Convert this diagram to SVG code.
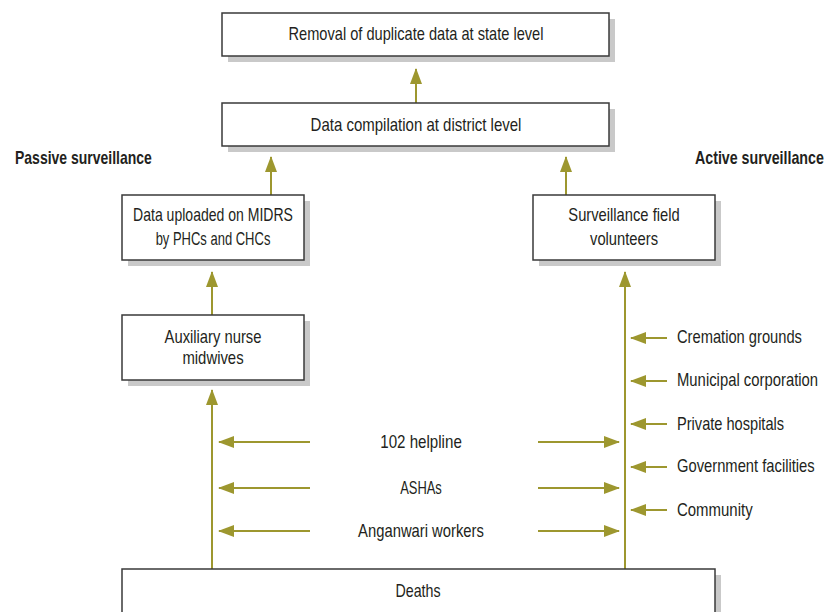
<svg xmlns="http://www.w3.org/2000/svg" width="827" height="612" viewBox="0 0 827 612">
<style>
.box{fill:#fff;stroke:#3a3a3a;stroke-width:1.5}
.sh{fill:#c9c9c9}
.t{font-family:"Liberation Sans",Arial,sans-serif;font-size:17.5px;fill:#231f20;text-anchor:middle}
.l{text-anchor:start}
.b{font-weight:bold}
.c{stroke:#9d972f;stroke-width:2;fill:none;marker-end:url(#ah)}
</style>
<defs>
<marker id="ah" markerUnits="userSpaceOnUse" viewBox="0 0 16 12" refX="15" refY="6" markerWidth="16" markerHeight="12" orient="auto">
<path d="M0,0 L16,6 L0,12 z" fill="#9d972f"/>
</marker>
</defs>
<rect width="827" height="612" fill="#fff"/>
<g id="connectors">
<line class="c" x1="416" y1="103" x2="416" y2="69"/>
<line class="c" x1="271" y1="195" x2="271" y2="157"/>
<line class="c" x1="566" y1="195" x2="566" y2="157"/>
<line class="c" x1="212" y1="315" x2="212" y2="272"/>
<line class="c" x1="212" y1="569" x2="212" y2="390"/>
<line class="c" x1="625" y1="569" x2="625" y2="272"/>
<line class="c" x1="310" y1="442" x2="219" y2="442"/>
<line class="c" x1="310" y1="488" x2="219" y2="488"/>
<line class="c" x1="310" y1="531" x2="219" y2="531"/>
<line class="c" x1="538" y1="442" x2="619" y2="442"/>
<line class="c" x1="538" y1="488" x2="619" y2="488"/>
<line class="c" x1="538" y1="531" x2="619" y2="531"/>
<line class="c" x1="667" y1="338" x2="631" y2="338"/>
<line class="c" x1="667" y1="381" x2="631" y2="381"/>
<line class="c" x1="667" y1="424" x2="631" y2="424"/>
<line class="c" x1="667" y1="467" x2="631" y2="467"/>
<line class="c" x1="667" y1="510" x2="631" y2="510"/>
</g>
<g id="removal">
<rect class="sh" x="228" y="19" width="387" height="43"/>
<rect class="box" x="222" y="13" width="387" height="43"/>
<text class="t" transform="translate(416,40) scale(0.85,1)" textLength="300" lengthAdjust="spacingAndGlyphs">Removal of duplicate data at state level</text>
</g>
<g id="compilation">
<rect class="sh" x="228" y="109" width="387" height="43"/>
<rect class="box" x="222" y="103" width="387" height="43"/>
<text class="t" transform="translate(416,131) scale(0.85,1)" textLength="248" lengthAdjust="spacingAndGlyphs">Data compilation at district level</text>
</g>
<g id="passive-label">
<text class="t l b" transform="translate(15,164) scale(0.8,1)" textLength="171" lengthAdjust="spacingAndGlyphs">Passive surveillance</text>
</g>
<g id="active-label">
<text class="t l b" transform="translate(695,164) scale(0.8,1)" textLength="161" lengthAdjust="spacingAndGlyphs">Active surveillance</text>
</g>
<g id="uploaded">
<rect class="sh" x="128" y="201" width="182" height="65"/>
<rect class="box" x="122" y="195" width="182" height="65"/>
<text class="t" transform="translate(213,221) scale(0.85,1)" textLength="188" lengthAdjust="spacingAndGlyphs">Data uploaded on MIDRS</text>
<text class="t" transform="translate(213,245) scale(0.85,1)" textLength="135" lengthAdjust="spacingAndGlyphs">by PHCs and CHCs</text>
</g>
<g id="volunteers">
<rect class="sh" x="539" y="201" width="182" height="65"/>
<rect class="box" x="533" y="195" width="182" height="65"/>
<text class="t" transform="translate(624,221) scale(0.85,1)" textLength="131" lengthAdjust="spacingAndGlyphs">Surveillance field</text>
<text class="t" transform="translate(624,245) scale(0.85,1)" textLength="80" lengthAdjust="spacingAndGlyphs">volunteers</text>
</g>
<g id="anm">
<rect class="sh" x="128" y="321" width="182" height="65"/>
<rect class="box" x="122" y="315" width="182" height="65"/>
<text class="t" transform="translate(213,343) scale(0.85,1)" textLength="114" lengthAdjust="spacingAndGlyphs">Auxiliary nurse</text>
<text class="t" transform="translate(213,364) scale(0.85,1)" textLength="72" lengthAdjust="spacingAndGlyphs">midwives</text>
</g>
<g id="helpline"><text class="t" transform="translate(421,448) scale(0.85,1)" textLength="96" lengthAdjust="spacingAndGlyphs">102 helpline</text></g>
<g id="ashas"><text class="t" transform="translate(421,494) scale(0.85,1)" textLength="49" lengthAdjust="spacingAndGlyphs">ASHAs</text></g>
<g id="anganwari"><text class="t" transform="translate(421,537) scale(0.85,1)" textLength="148" lengthAdjust="spacingAndGlyphs">Anganwari workers</text></g>
<g id="cremation"><text class="t l" transform="translate(677,343) scale(0.85,1)" textLength="147" lengthAdjust="spacingAndGlyphs">Cremation grounds</text></g>
<g id="municipal"><text class="t l" transform="translate(677,386) scale(0.85,1)" textLength="166" lengthAdjust="spacingAndGlyphs">Municipal corporation</text></g>
<g id="private"><text class="t l" transform="translate(677,430) scale(0.85,1)" textLength="126" lengthAdjust="spacingAndGlyphs">Private hospitals</text></g>
<g id="government"><text class="t l" transform="translate(677,472) scale(0.85,1)" textLength="162" lengthAdjust="spacingAndGlyphs">Government facilities</text></g>
<g id="community"><text class="t l" transform="translate(677,516) scale(0.85,1)" textLength="89" lengthAdjust="spacingAndGlyphs">Community</text></g>
<g id="deaths">
<rect class="sh" x="128" y="575" width="593" height="60"/>
<rect class="box" x="122" y="569" width="593" height="60"/>
<text class="t" transform="translate(418,597) scale(0.85,1)" textLength="53" lengthAdjust="spacingAndGlyphs">Deaths</text>
</g>
</svg>
